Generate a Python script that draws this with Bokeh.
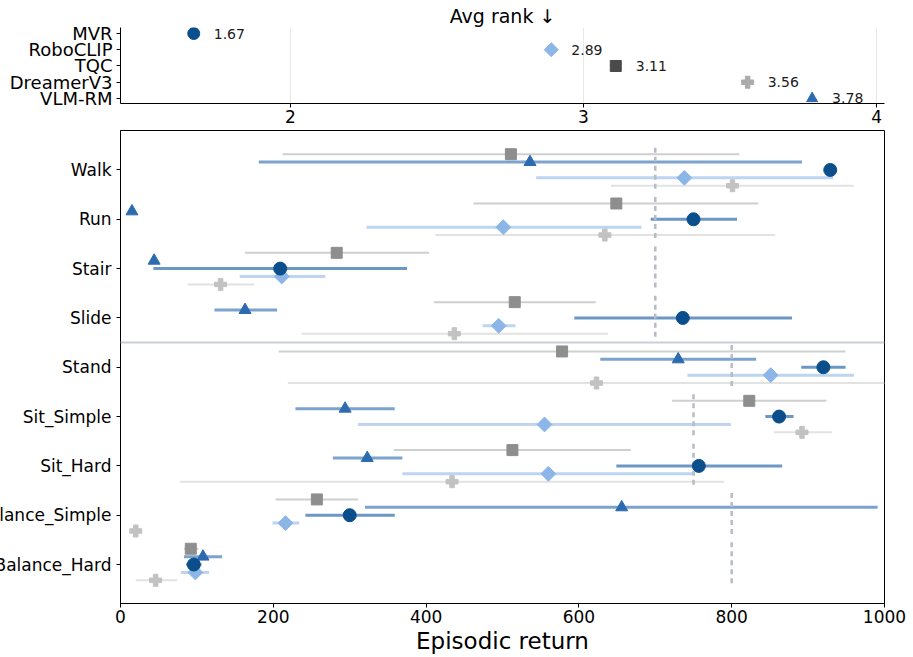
import numpy as np
from bokeh.plotting import figure
from bokeh.layouts import column
from bokeh.models import Range1d, FixedTicker, Span
from bokeh.core.properties import value
from bokeh.embed import file_html
from bokeh.resources import INLINE

# ---------------- data ----------------
tasks = ["Walk", "Run", "Stair", "Slide", "Stand", "Sit_Simple", "Sit_Hard",
         "Balance_Simple", "Balance_Hard"]
targets = [700, 700, 700, 700, 800, 750, 750, 800, 800]

methods = ["MVR", "RoboCLIP", "TQC", "DreamerV3", "VLM-RM"]
avg_rank = [1.67, 2.89, 3.11, 3.56, 3.78]

mvr_mean = [929, 750, 209, 736, 920, 862, 757, 300, 96]
mvr_lo = [929, 694, 43, 594, 891, 844, 649, 242, 86]
mvr_hi = [929, 807, 375, 879, 949, 881, 866, 359, 106]

vlm_mean = [536, 15, 44, 163, 730, 294, 323, 656, 108]
vlm_lo = [181, 15, 44, 123, 628, 229, 278, 320, 83]
vlm_hi = [892, 15, 44, 205, 832, 359, 369, 991, 133]

robo_mean = [738, 501, 211, 495, 851, 555, 560, 216, 98]
robo_lo = [544, 322, 156, 474, 742, 311, 369, 199, 79]
robo_hi = [933, 682, 268, 517, 960, 799, 752, 234, 116]

tqc_mean = [511, 649, 283, 516, 578, 823, 513, 257, 92]
tqc_lo = [212, 462, 163, 410, 207, 722, 358, 203, 83]
tqc_hi = [810, 835, 404, 622, 949, 924, 668, 311, 102]

dv3_mean = [801, 634, 131, 437, 623, 892, 434, 20, 46]
dv3_lo = [642, 412, 88, 237, 219, 855, 78, 20, 20]
dv3_hi = [960, 857, 175, 638, 1000, 931, 790, 20, 74]

x_ticks = [0, 200, 400, 600, 800, 1000]
rank_ticks = [2, 3, 4]

# ---------------- styles ----------------
FONT = "DejaVu Sans"
SHIFT = 40
W = 913 + SHIFT

series = {
    "MVR": dict(mean=mvr_mean, lo=mvr_lo, hi=mvr_hi, off=0.0, marker="circle",
                size=13, angle=0.0, color="#0a4e8c", bar="#6c97c3", bw=3,
                top_color="#0a4e8c", top_size=12),
    "RoboCLIP": dict(mean=robo_mean, lo=robo_lo, hi=robo_hi, off=0.16, marker="square",
                     size=10.5, angle=np.pi / 4, color="#8db6e8", bar="#bed5f1", bw=3,
                     top_color="#8db6e8", top_size=10),
    "TQC": dict(mean=tqc_mean, lo=tqc_lo, hi=tqc_hi, off=-0.32, marker="square",
                size=11, angle=0.0, color="#8e8e8e", bar="#cfcfcf", bw=2,
                top_color="#4a4a4a", top_size=11),
    "DreamerV3": dict(mean=dv3_mean, lo=dv3_lo, hi=dv3_hi, off=0.32, marker="plus",
                      size=12, angle=0.0, color="#c2c2c2", bar="#e2e2e2", bw=2,
                      top_color="#ababab", top_size=12),
    "VLM-RM": dict(mean=vlm_mean, lo=vlm_lo, hi=vlm_hi, off=-0.16, marker="triangle",
                   size=12, angle=0.0, color="#2d6bb0", bar="#7ca3ce", bw=3,
                   top_color="#2d6bb0", top_size=11),
}

# ---------------- top panel: average rank ----------------
top = figure(width=W, height=129, x_range=Range1d(1.42, 4.027),
             y_range=Range1d(4.31, -0.37), output_backend="svg",
             toolbar_location=None, min_border_left=160, min_border_right=29,
             min_border_top=27, min_border_bottom=26, title="Avg rank ↓")
top.title.align = "center"
top.title.text_font = FONT
top.title.text_font_size = "19px"
top.title.text_font_style = "normal"
top.title.text_color = "black"
top.title.standoff = 1
top.outline_line_color = None
top.ygrid.visible = False
top.xgrid.grid_line_color = "#e8e8e8"
top.xgrid.grid_line_width = 1
top.xaxis.ticker = FixedTicker(ticks=rank_ticks)
top.yaxis.ticker = FixedTicker(ticks=list(range(len(methods))))
top.yaxis.major_label_overrides = {i: m for i, m in enumerate(methods)}
for ax in (top.xaxis[0], top.yaxis[0]):
    ax.major_label_text_font = FONT
    ax.major_label_text_font_size = "17px"
    ax.major_label_text_color = "black"
    ax.major_tick_out = 4
    ax.major_tick_in = 0
    ax.minor_tick_out = 0
    ax.minor_tick_in = 0
    ax.axis_line_color = "black"
    ax.major_tick_line_color = "black"
top.yaxis.major_label_text_font_size = "18px"
top.xaxis.major_label_standoff = 2
top.yaxis.major_label_standoff = 4

ridx = np.arange(len(methods))
for i, m in enumerate(methods):
    s = series[m]
    top.scatter([avg_rank[i]], [ridx[i]], marker=s["marker"], size=s["top_size"],
                angle=s["angle"], fill_color=s["top_color"], line_color=s["top_color"])
top.text(x=avg_rank, y=ridx, text=[f"{v:.2f}" for v in avg_rank], x_offset=20,
         text_baseline="middle", text_align="left", text_font_size="14px",
         text_font=value(FONT), text_color="#1a1a1a")

# ---------------- main panel: episodic return ----------------
main = figure(width=W, height=528, x_range=Range1d(0, 1000),
              y_range=Range1d(8.79, -0.80), output_backend="svg",
              toolbar_location=None, min_border_left=160, min_border_right=29,
              min_border_top=1, min_border_bottom=54)
main.grid.visible = False
main.outline_line_color = "black"
main.outline_line_width = 1
main.xaxis.ticker = FixedTicker(ticks=x_ticks)
main.yaxis.ticker = FixedTicker(ticks=list(range(len(tasks))))
main.yaxis.major_label_overrides = {i: t for i, t in enumerate(tasks)}
for ax in (main.xaxis[0], main.yaxis[0]):
    ax.major_label_text_font = FONT
    ax.major_label_text_font_size = "17px"
    ax.major_label_text_color = "black"
    ax.major_tick_out = 4
    ax.major_tick_in = 0
    ax.minor_tick_out = 0
    ax.minor_tick_in = 0
    ax.axis_line_color = "black"
    ax.major_tick_line_color = "black"
main.xaxis.major_label_standoff = 2
main.yaxis.major_label_standoff = 5
main.xaxis.axis_label = "Episodic return"
main.xaxis.axis_label_text_font = FONT
main.xaxis.axis_label_text_font_size = "23px"
main.xaxis.axis_label_text_font_style = "normal"
main.xaxis.axis_label_text_color = "black"
main.xaxis.axis_label_standoff = 2

tidx = np.arange(len(tasks))
main.add_layout(Span(location=3.5, dimension="width", line_color="#c9ced8", line_width=2))

for m in ["TQC", "DreamerV3", "VLM-RM", "RoboCLIP", "MVR"]:
    s = series[m]
    y = tidx + s["off"]
    main.segment(x0=s["lo"], y0=y, x1=s["hi"], y1=y, line_color=s["bar"], line_width=s["bw"])

main.segment(x0=targets, y0=tidx - 0.45, x1=targets, y1=tidx + 0.45,
             line_color="#b6bbc6", line_width=2.5, line_dash="5 4")

for m in ["TQC", "DreamerV3", "VLM-RM", "RoboCLIP", "MVR"]:
    s = series[m]
    y = tidx + s["off"]
    main.scatter(s["mean"], y, marker=s["marker"], size=s["size"], angle=s["angle"],
                 fill_color=s["color"], line_color=s["color"])

layout = column(top, main, spacing=0, margin=(0, 0, 0, -SHIFT))

open("out.html", "w").write(file_html(layout, INLINE))
